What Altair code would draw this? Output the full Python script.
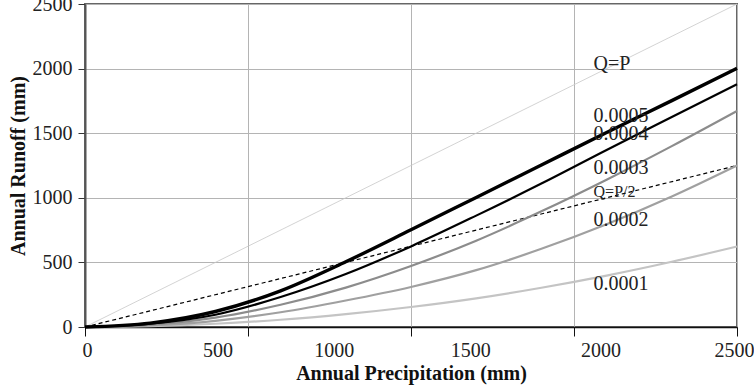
import altair as alt
import pandas as pd

# ---- data ----
precip = [0, 250, 500, 750, 1000, 1250, 1500, 1750, 2000, 2250, 2500]
runoff_0001 = [0, 6, 25, 56, 100, 155, 222, 304, 398, 505, 623]
runoff_0002 = [0, 12, 48, 114, 205, 310, 440, 605, 795, 1010, 1250]
runoff_0003 = [0, 19, 73, 172, 305, 472, 668, 895, 1140, 1400, 1672]
runoff_0004 = [0, 25, 95, 232, 410, 624, 862, 1110, 1370, 1625, 1879]
runoff_0005 = [0, 30, 120, 280, 505, 752, 1003, 1254, 1505, 1752, 2002]

ref_precip = [0, 2500]
ref_q_equals_p = [0, 2500]
ref_q_equals_half_p = [0, 1250]

x_label_values = [0, 500, 1000, 1500, 2000, 2500]
x_grid_values = [0, 625, 1250, 1875, 2500]
y_values = [0, 500, 1000, 1500, 2000, 2500]

label_text = ["Q=P", "0.0005", "0.0004", "0.0003", "Q=P/2", "0.0002", "0.0001"]
label_precip = [1950, 1950, 1950, 1950, 1950, 1950, 1950]
label_runoff = [1987, 1588, 1447, 1184, 1009, 778, 289]
label_size = [20, 20, 20, 20, 16, 20, 20]

series = [
    ("0.0001", runoff_0001, "#c4c4c4", 2.2),
    ("0.0002", runoff_0002, "#a0a0a0", 2.2),
    ("0.0003", runoff_0003, "#8c8c8c", 2.2),
    ("0.0004", runoff_0004, "#000000", 2.2),
    ("0.0005", runoff_0005, "#000000", 3.4),
]

FONT = "Liberation Serif"
xs = alt.Scale(domain=[0, 2500], nice=False, zero=True)
ys = alt.Scale(domain=[0, 2500], nice=False, zero=True)

y_axis = alt.Axis(
    values=y_values, format="d", grid=True, gridColor="#b4b4b4", gridWidth=1,
    title="Annual Runoff (mm)", titleFont=FONT, titleFontSize=20,
    titleFontWeight="bold", titleColor="#111", titlePadding=4,
    labelFont=FONT, labelFontSize=20, labelColor="#222", labelPadding=6,
    labelFlush=False, labelOverlap=False,
    domainColor="#555", domainWidth=2, tickColor="#333", tickSize=7,
)
grid_axis = alt.Axis(
    orient="bottom", values=x_grid_values, grid=True, gridColor="#b4b4b4",
    gridWidth=1, labels=False, ticks=True, tickSize=9, tickColor="#111",
    domain=True, domainColor="#111", domainWidth=1.5,
    title="Annual Precipitation (mm)", titleFont=FONT, titleFontSize=20,
    titleFontWeight="bold", titleColor="#111", titlePadding=27,
)
label_axis = alt.Axis(
    orient="bottom", values=x_label_values, format="d", grid=False, ticks=False,
    domain=False, labels=True, title=None, labelFont=FONT, labelFontSize=20,
    labelColor="#222", labelPadding=13, labelFlush=False, labelOverlap=False,
    labelOffset={
        "condition": [
            {"test": "datum.value == 1000", "value": -12},
            {"test": "datum.value == 1500 || datum.value == 2000", "value": -6},
            {"test": "datum.value == 2500", "value": -3},
        ],
        "value": 2,
    },
)

Y = alt.Y("Q:Q", scale=ys, axis=y_axis)

qp_df = pd.DataFrame({"P": ref_precip, "Q": ref_q_equals_p})
qh_df = pd.DataFrame({"P": ref_precip, "Q": ref_q_equals_half_p})

layers = [
    alt.Chart(qp_df).mark_line(color="#c8c8c8", strokeWidth=0.8).encode(
        x=alt.X("P:Q", scale=xs, axis=grid_axis), y=Y),
    alt.Chart(qh_df).mark_line(color="#000", strokeWidth=1.2, strokeDash=[4, 3]).encode(
        x=alt.X("P:Q", scale=xs, axis=label_axis), y=Y),
]
for name, vals, col, w in series:
    df = pd.DataFrame({"P": precip, "Q": vals})
    layers.append(
        alt.Chart(df).mark_line(color=col, strokeWidth=w, interpolate="monotone").encode(
            x=alt.X("P:Q", scale=xs, axis=None), y=Y)
    )

lab_df = pd.DataFrame({"P": label_precip, "Q": label_runoff, "t": label_text, "s": label_size})
layers.append(
    alt.Chart(lab_df).mark_text(align="left", baseline="alphabetic", font=FONT, color="#222").encode(
        x=alt.X("P:Q", scale=xs, axis=None), y=Y, text="t:N",
        size=alt.Size("s:Q", scale=None, legend=None))
)

chart = alt.layer(*layers).resolve_axis(x="independent").properties(
    width=652, height=323,
    autosize=alt.AutoSizeParams(type="none"),
    padding={"left": 85, "top": 4, "right": 17, "bottom": 59},
    background="white",
).configure_view(stroke="#666", strokeWidth=2)

chart.save("out.html", embed_options={"renderer": "svg", "actions": False})
